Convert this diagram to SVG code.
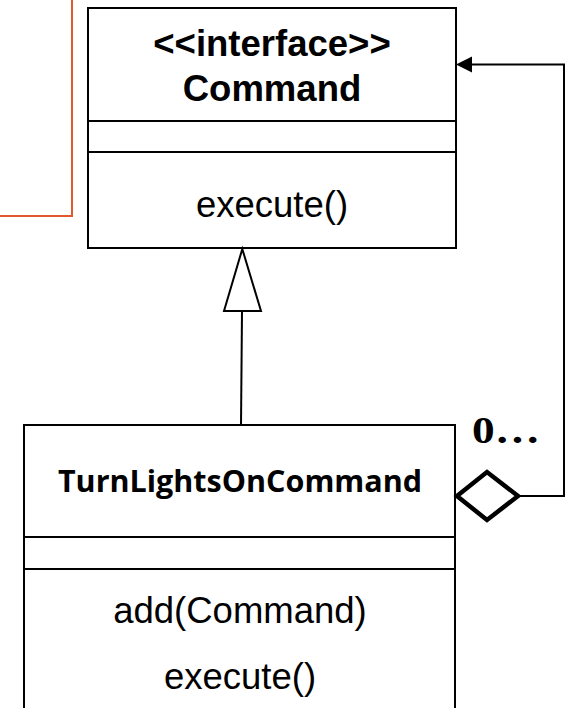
<svg xmlns="http://www.w3.org/2000/svg" width="568" height="708" viewBox="0 0 568 708">
<style>
.box{fill:#fff;stroke:#000;stroke-width:2}
.div{stroke:#000;stroke-width:2}
.ar{font-family:"Liberation Sans",Arial,sans-serif;font-size:36.5px;fill:#000;text-anchor:middle}
.b{font-weight:bold}
.cal{font-family:"Open Sans","Noto Sans",sans-serif;font-weight:bold;font-size:30.5px;text-anchor:middle;fill:#000}
.ser{font-family:"Liberation Serif","Times New Roman",serif;font-weight:bold;font-size:37px;fill:#000}
.con{fill:none;stroke:#000;stroke-width:2}
</style>
<g id="frame-line">
<polyline points="72,0 72,216 0,216" fill="none" stroke="#E2582C" stroke-width="2"/>
</g>
<g id="command">
<rect class="box" x="88" y="8" width="368" height="240"/>
<line class="div" x1="88" y1="121" x2="456" y2="121"/>
<line class="div" x1="88" y1="152" x2="456" y2="152"/>
<text class="ar b" x="272" y="56">&lt;&lt;interface&gt;&gt;</text>
<text class="ar b" x="272" y="101">Command</text>
<text class="ar" x="272" y="217">execute()</text>
</g>
<g id="turnlights">
<rect class="box" x="24" y="425" width="431" height="300"/>
<line class="div" x1="24" y1="537" x2="455" y2="537"/>
<line class="div" x1="24" y1="569" x2="455" y2="569"/>
<text class="cal" x="240" y="492">TurnLightsOnCommand</text>
<text class="ar" x="240" y="623">add(Command)</text>
<text class="ar" x="240" y="689">execute()</text>
</g>
<g id="connectors">
<line class="con" x1="242" y1="311" x2="241" y2="425"/>
<polygon points="242.3,249 224,311 261,311" fill="#fff" stroke="#000" stroke-width="2" stroke-linejoin="miter"/>
<polyline class="con" points="518,496 564,496 564,64.5 472,64.5"/>
<path d="M456,64.5 L472,56.5 L472,72.5 Z" fill="#000"/>
<polygon points="457,496 487,472 518,496 487,520" fill="#fff" stroke="#000" stroke-width="4.5" stroke-linejoin="miter"/>
<text class="ser" x="472" y="443" textLength="68" lengthAdjust="spacingAndGlyphs">0…</text>
</g>
</svg>
